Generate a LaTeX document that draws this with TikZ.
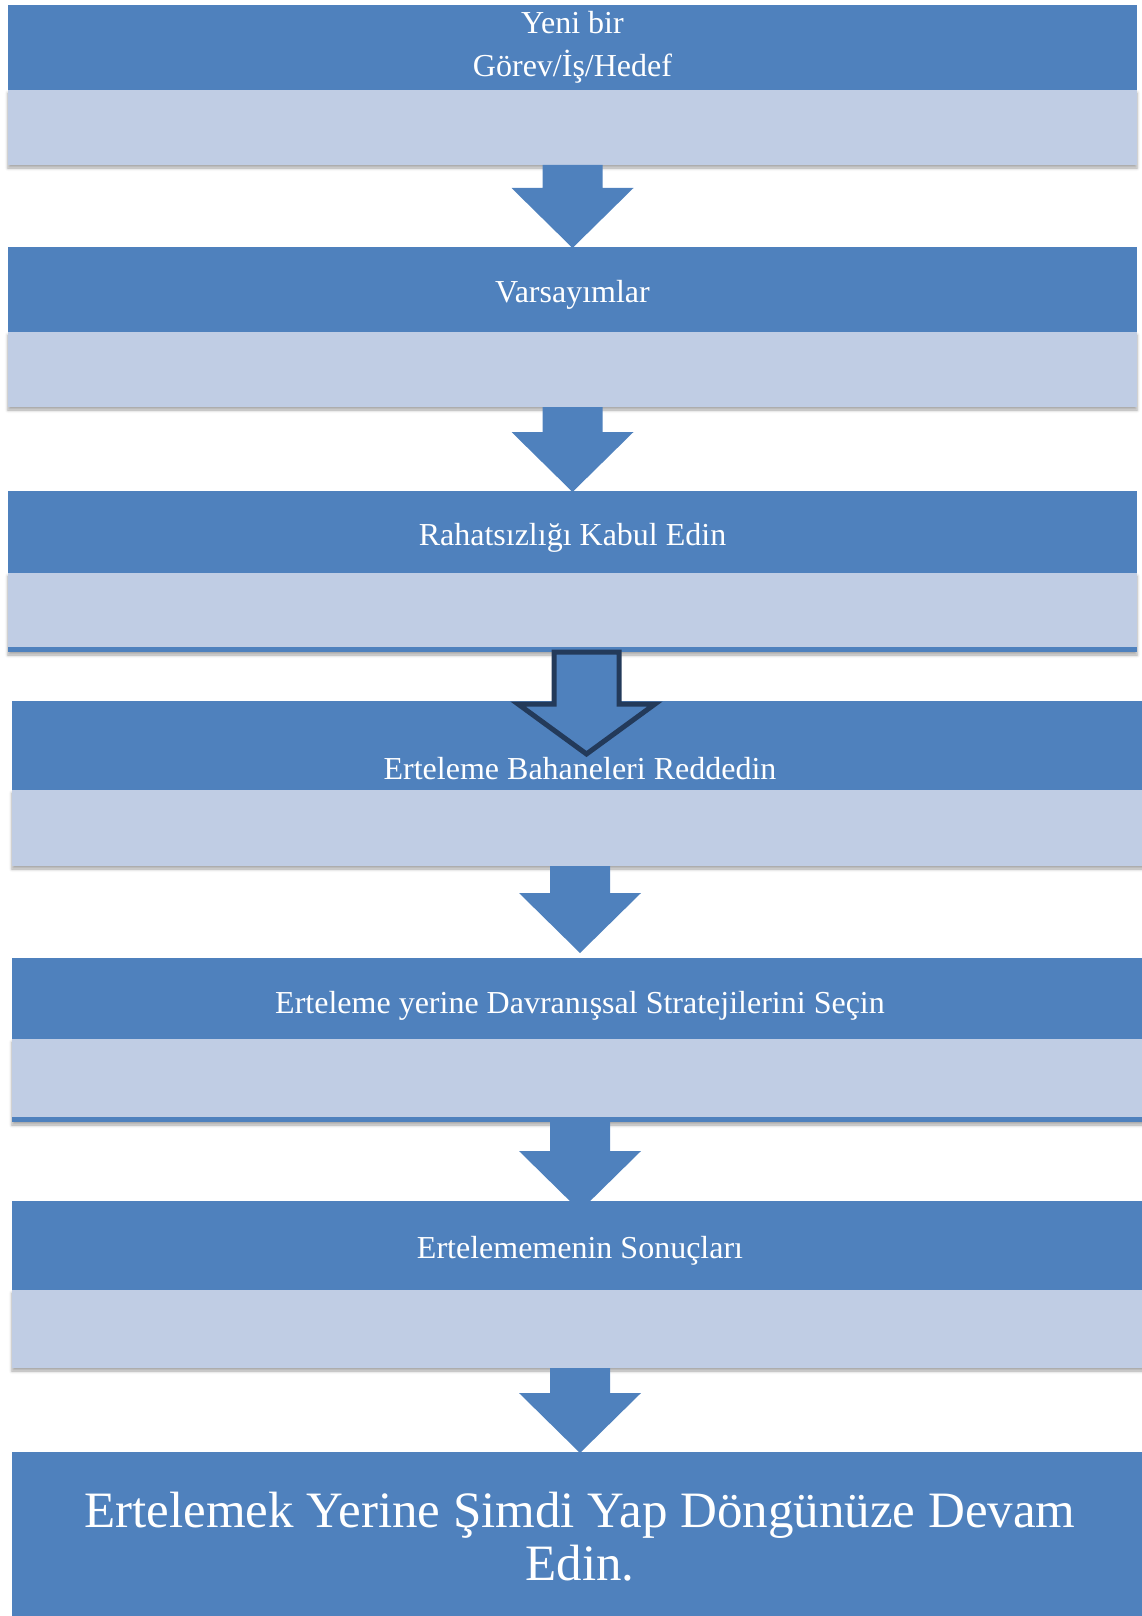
\documentclass[tikz,border=0pt]{standalone}
\usepackage{fontspec}
\setmainfont{Liberation Serif}
\usepackage{tikz}
\usetikzlibrary{
  positioning,
  calc,
  shadows.blur
}
\definecolor{hdrblue}{RGB}{79,129,189}
\definecolor{bodyblue}{RGB}{192,205,228}
\definecolor{navy}{RGB}{35,58,90}
% fat down arrow: shaft from #1.south, tip at #2.north shifted by #3 pt
\newcommand{\blockarrow}[3]{%
  \fill[hdrblue] let \p1=(#1.south), \p2=(#2.north) in
    ({\x2-30pt},\y1) -- ({\x2+30pt},\y1) -- ({\x2+30pt},{\y2+#3pt+60pt})
    -- ({\x2+61pt},{\y2+#3pt+60pt}) -- (\x2,{\y2+#3pt})
    -- ({\x2-61pt},{\y2+#3pt+60pt}) -- ({\x2-30pt},{\y2+#3pt+60pt}) -- cycle;}

\begin{document}
\begin{tikzpicture}[
    x=1pt, y=1pt,
    node distance=0pt,
    every node/.style={inner sep=0pt, outer sep=0pt},
    hdr/.style={
      fill=hdrblue,
      text=white,
      align=center,
      minimum width=1129pt,
      minimum height=85pt,
      font=\fontsize{32}{43}\selectfont
    },
    lowtext/.style={text height=#1, text depth=0pt},
    body/.style={
      fill=bodyblue,
      minimum width=1129pt,
      minimum height=75pt,
      blur shadow={shadow xshift=0pt, shadow yshift=-3pt,
        shadow blur radius=3pt, shadow opacity=35}
    },
    edgeline/.style={path picture={
      \fill[hdrblue] (path picture bounding box.south west)
        rectangle ([yshift=5pt]path picture bounding box.south east);}},
    wide/.style={minimum width=1136pt}
  ]
    \useasboundingbox (0,0) rectangle (1142,-1616);

    % upper column
    \node[hdr, anchor=north west] (task) at (8,-5) {Yeni bir\\Görev/İş/Hedef};
    \node[body, below=of task] (taskb) {};
    \node[hdr, lowtext=26pt, below=82pt of taskb] (assume) {Varsayımlar};
    \node[body, below=of assume] (assumeb) {};
    \node[hdr, lowtext=26pt, minimum height=82pt, below=84pt of assumeb] (tolerate)
      {Rahatsızlığı Kabul Edin};
    \node[body, edgeline, minimum height=79pt, below=of tolerate] (tolerateb) {};

    % lower column, shifted a little right
    \node[hdr, wide, minimum height=89pt, lowtext=67pt,
      below=49pt of tolerateb, xshift=7.5pt] (reject) {Erteleme Bahaneleri Reddedin};
    \node[body, wide, minimum height=76pt, below=of reject] (rejectb) {};
    \node[hdr, wide, lowtext=29pt, minimum height=81pt, below=92pt of rejectb] (choose)
      {Erteleme yerine Davranışsal Stratejilerini Seçin};
    \node[body, wide, edgeline, minimum height=83pt, below=of choose] (chooseb) {};
    \node[hdr, wide, lowtext=26pt, minimum height=89pt, below=79pt of chooseb] (result)
      {Ertelememenin Sonuçları};
    \node[body, wide, minimum height=78pt, below=of result] (resultb) {};
    \node[hdr, wide, minimum height=170pt, font=\fontsize{51}{53}\selectfont,
      below=84pt of resultb] (keepgoing)
      {Ertelemek Yerine Şimdi Yap Döngünüze Devam\\Edin.};

    % arrows
    \blockarrow{taskb}{assume}{-1}
    \blockarrow{assumeb}{tolerate}{-1}
    \draw[fill=hdrblue, draw=navy, line width=5pt]
      let \p1=(tolerateb.south), \p2=(reject.north) in
      ({\x2-26pt},\y1) -- ({\x2+39pt},\y1) -- ({\x2+39pt},{\y1-52pt})
      -- ({\x2+75pt},{\y1-52pt}) -- ({\x2+6.5pt},{\y1-102pt})
      -- ({\x2-62pt},{\y1-52pt}) -- ({\x2-26pt},{\y1-52pt}) -- cycle;
    \blockarrow{rejectb}{choose}{5}
    \blockarrow{chooseb}{result}{-10}
    \blockarrow{resultb}{keepgoing}{-1}
\end{tikzpicture}
\end{document}
